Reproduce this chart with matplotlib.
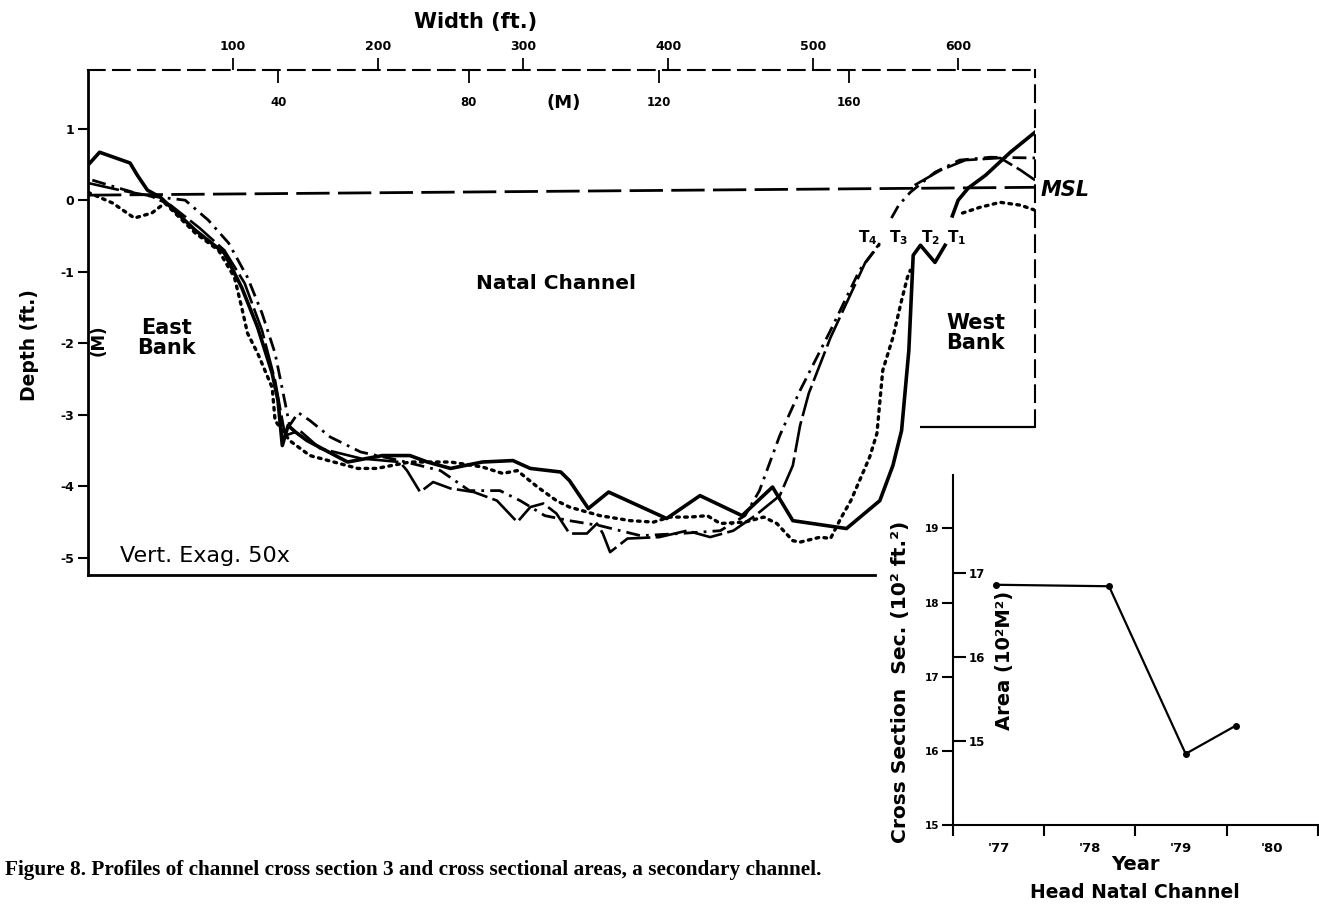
import matplotlib.pyplot as plt

plt.rcParams['font.family'] = ['DejaVu Sans']
plt.rcParams['font.weight'] = 'bold'
plt.rcParams['axes.labelweight'] = 'bold'

# channel cross section 3: width (ft) vs depth (ft), channel part and west bank part per survey
t1_x = [0, 8, 29, 34, 41, 50, 74, 94, 106, 117, 127, 131, 134, 138, 143, 151, 179, 203, 222, 234,
        250, 272, 293, 305, 326, 332, 345, 359, 372, 399, 422, 451, 472, 486, 523, 546, 555, 561,
        566, 569, 574, 584, 591]
t1_y = [0.49, 0.67, 0.52, 0.35, 0.14, 0.04, -0.42, -0.74, -1.22, -1.78, -2.42, -2.80, -3.43, -3.15,
        -3.24, -3.36, -3.66, -3.57, -3.57, -3.66, -3.75, -3.66, -3.64, -3.75, -3.80, -3.92, -4.31,
        -4.08, -4.20, -4.45, -4.13, -4.41, -4.01, -4.48, -4.59, -4.20, -3.71, -3.22, -2.10, -0.77,
        -0.63, -0.87, -0.63]
t1_bank_x = [596, 600, 607, 619, 636, 653]
t1_bank_y = [-0.22, 0.0, 0.17, 0.35, 0.67, 0.95]

t2_x = [0, 17, 32, 44, 53, 58, 74, 90, 101, 106, 110, 117, 127, 129, 139, 153, 186, 199, 222, 250,
        272, 286, 296, 310, 323, 332, 353, 374, 390, 401, 415, 427, 436, 453, 466, 475, 486, 491,
        505, 512, 519, 526, 532, 539, 544, 548, 555, 561, 565, 567]
t2_y = [0.11, -0.04, -0.25, -0.18, -0.04, -0.14, -0.46, -0.70, -1.08, -1.50, -1.86, -2.14, -2.62,
        -3.08, -3.36, -3.57, -3.75, -3.75, -3.66, -3.66, -3.73, -3.82, -3.78, -4.01, -4.20, -4.29,
        -4.41, -4.48, -4.50, -4.43, -4.43, -4.41, -4.52, -4.50, -4.43, -4.52, -4.76, -4.78, -4.71,
        -4.73, -4.45, -4.20, -3.92, -3.59, -3.26, -2.38, -1.92, -1.40, -1.08, -0.98]
t2_bank_x = [603, 615, 629, 643, 653]
t2_bank_y = [-0.18, -0.10, -0.03, -0.07, -0.14]

t3_x = [3, 21, 38, 67, 83, 97, 110, 120, 129, 136, 139, 145, 153, 167, 188, 215, 243, 263, 284,
        298, 315, 332, 353, 381, 408, 436, 453, 463, 477, 491, 512, 532, 548]
t3_y = [0.28, 0.17, 0.07, 0.0, -0.28, -0.60, -1.08, -1.58, -2.14, -2.84, -3.15, -2.97, -3.08,
        -3.31, -3.52, -3.64, -3.78, -4.06, -4.06, -4.20, -4.41, -4.48, -4.55, -4.69, -4.66, -4.62,
        -4.41, -4.06, -3.29, -2.66, -1.82, -0.98, -0.56]
t3_bank_x = [554, 559, 567, 584, 601, 622, 653]
t3_bank_y = [-0.25, -0.07, 0.11, 0.39, 0.56, 0.60, 0.59]

t4_x = [0, 22, 43, 57, 77, 94, 108, 120, 129, 134, 136, 146, 160, 188, 215, 220, 229, 238, 250,
        266, 282, 296, 305, 314, 323, 332, 344, 351, 355, 360, 372, 394, 413, 429, 445, 460, 477,
        486, 491, 497, 512, 536, 546]
t4_y = [0.24, 0.14, 0.06, -0.07, -0.39, -0.70, -1.16, -1.82, -2.52, -3.08, -3.29, -3.22, -3.47,
        -3.61, -3.66, -3.78, -4.08, -3.94, -4.03, -4.08, -4.20, -4.50, -4.29, -4.24, -4.38, -4.66,
        -4.66, -4.52, -4.66, -4.92, -4.73, -4.71, -4.62, -4.71, -4.62, -4.41, -4.13, -3.71, -3.15,
        -2.70, -1.92, -0.87, -0.60]
t4_bank_x = [570, 588, 605, 629, 643, 653]
t4_bank_y = [0.21, 0.42, 0.56, 0.59, 0.42, 0.28]

msl_x = [0, 653]
msl_y = [0.07, 0.18]

ft_ticks = [100, 200, 300, 400, 500, 600]
m_ticks = [40, 80, 120, 160]
depth_ticks = [1, 0, -1, -2, -3, -4, -5]
depth_labels = ['1', '0', '-1', '-2', '-3', '-4', '-5']

# cross sectional area, head of Natal Channel
years = [1977.47, 1978.71, 1979.55, 1980.10]
area_ft = [18.24, 18.22, 15.96, 16.34]
year_ticks = [1977, 1978, 1979, 1980, 1981]
year_label_pos = [1977.5, 1978.5, 1979.5, 1980.5]
year_labels = ["'77", "'78", "'79", "'80"]
area_ft_ticks = [15, 16, 17, 18, 19]
area_m_ticks = [15, 16, 17]


def ft_to_m(f):
    return f * 0.3048


def m_to_ft(m):
    return m / 0.3048


# metric area scale as drawn beside the ft^2 scale
def area_to_m(a):
    return (a + 0.848) / 1.1325


def area_to_ft(m):
    return m * 1.1325 - 0.848


fig = plt.figure(figsize=(13.19, 9.10), dpi=100)

ax = fig.add_axes([0.0667, 0.3681, 0.7180, 0.5550])
ax.patch.set_alpha(0)
ax.set_xlim(0, 653)
ax.set_ylim(-5.24, 1.82)

ax.plot(msl_x, msl_y, color='k', lw=2.0, linestyle=(0, (12, 3)))
ax.plot(t1_x, t1_y, color='k', lw=2.6, solid_joinstyle='round')
ax.plot(t1_bank_x, t1_bank_y, color='k', lw=2.6)
ax.plot(t2_x, t2_y, color='k', lw=2.4, linestyle=(0, (0.8, 1.6)), dash_capstyle='round')
ax.plot(t2_bank_x, t2_bank_y, color='k', lw=2.4, linestyle=(0, (0.8, 1.6)), dash_capstyle='round')
ax.plot(t3_x, t3_y, color='k', lw=2.0, linestyle=(0, (5, 2.2, 1, 2.2)))
ax.plot(t3_bank_x, t3_bank_y, color='k', lw=2.0, linestyle=(0, (5, 2.2, 1, 2.2)))
ax.plot(t4_x, t4_y, color='k', lw=1.9, linestyle=(0, (12, 2)))
ax.plot(t4_bank_x, t4_bank_y, color='k', lw=1.9, linestyle=(0, (12, 2)))

# frame: dashed top and right edges, west bank box
ax.spines['left'].set_linewidth(2.0)
ax.spines['bottom'].set_linewidth(2.0)
ax.spines['bottom'].set_bounds(0, 543)
ax.spines['top'].set_linewidth(1.5)
ax.spines['top'].set_linestyle((0, (8, 4)))
ax.spines['right'].set_linewidth(1.5)
ax.spines['right'].set_linestyle((0, (8, 4)))
ax.spines['right'].set_bounds(-3.17, 1.82)
ax.hlines(-3.17, 574, 653, color='k', lw=1.6)

ax.xaxis.tick_top()
ax.set_xticks(ft_ticks)
ax.tick_params(axis='x', direction='out', length=9, width=1.3, labelsize=9, pad=3)
ax.set_yticks(depth_ticks)
ax.set_yticklabels(depth_labels)
ax.tick_params(axis='y', direction='out', length=7, width=1.5, labelsize=9, pad=3)

secx = ax.secondary_xaxis('top', functions=(ft_to_m, m_to_ft))
secx.set_alignment('bottom')
secx.spines[:].set_visible(False)
secx.set_xticks(m_ticks)
secx.tick_params(direction='out', length=9, width=1.3, labelsize=8.5, pad=10)

ax.xaxis.set_label_position('top')
ax.set_xlabel('Width (ft.)', fontsize=15)
ax.xaxis.set_label_coords(0.409, 1.083)
ax.set_ylabel('Depth (ft.)', fontsize=13.5)
ax.yaxis.set_label_coords(-0.052, 0.455)

ax.text(328, 1.36, '(M)', fontsize=13, ha='center', va='center')
ax.text(7, -1.96, '(M)', fontsize=12, rotation=90, ha='center', va='center')
ax.text(54, -1.92, 'East\nBank', fontsize=15, ha='center', va='center', linespacing=1.0)
ax.text(323, -1.16, 'Natal Channel', fontsize=14.5, ha='center', va='center')
ax.text(612, -1.86, 'West\nBank', fontsize=15, ha='center', va='center', linespacing=1.0)
ax.text(22, -4.98, 'Vert. Exag. 50x', fontsize=16, fontweight='normal', ha='left', va='center')
ax.text(657, 0.14, 'MSL', fontsize=15, style='italic', ha='left', va='center', clip_on=False)
for lab, xp in zip(['T$_4$', 'T$_3$', 'T$_2$', 'T$_1$'], [538, 559, 581, 599]):
    ax.text(xp, -0.52, lab, fontsize=11, ha='center', va='center')

# inset: cross sectional area by year
ax2 = fig.add_axes([0.7225, 0.0934, 0.2767, 0.3846])
ax2.patch.set_alpha(0)
ax2.set_xlim(1977, 1981)
ax2.set_ylim(15, 19.72)
ax2.plot(years, area_ft, color='k', lw=1.6, marker='o', markersize=4)
ax2.spines['top'].set_visible(False)
ax2.spines['right'].set_visible(False)
ax2.spines['left'].set_linewidth(1.5)
ax2.spines['bottom'].set_linewidth(1.5)

ax2.set_xticks(year_ticks)
ax2.set_xticklabels([])
ax2.set_xticks(year_label_pos, minor=True)
ax2.set_xticklabels(year_labels, minor=True)
ax2.tick_params(axis='x', which='major', direction='out', length=8, width=1.5)
ax2.tick_params(axis='x', which='minor', length=0, labelsize=9.5, pad=12)
ax2.set_yticks(area_ft_ticks)
ax2.tick_params(axis='y', direction='out', length=8, width=1.5, labelsize=7.5, pad=2)

secy = ax2.secondary_yaxis('left', functions=(area_to_m, area_to_ft))
secy.set_alignment('right')
secy.spines[:].set_visible(False)
secy.set_yticks(area_m_ticks)
secy.tick_params(direction='out', length=9, width=1.5, labelsize=8.5, pad=2)

ax2.set_ylabel('Cross Section  Sec. (10² ft.²)', fontsize=14.6)
ax2.yaxis.set_label_coords(-0.118, 0.41)
ax2.text(0.142, 0.47, 'Area (10²M²)', fontsize=14, rotation=90, ha='center', va='center',
         transform=ax2.transAxes)
ax2.set_xlabel('Year', fontsize=14)
ax2.xaxis.set_label_coords(0.5, -0.085)

fig.text(0.8605, 0.0187, 'Head Natal Channel', fontsize=13.5, ha='center', va='center')
fig.text(0.004, 0.044,
         'Figure 8. Profiles of channel cross section 3 and cross sectional areas, a secondary channel.',
         fontsize=15.3, family=['Liberation Serif', 'DejaVu Serif'], ha='left', va='center')

fig.savefig('out.png', dpi=100)
